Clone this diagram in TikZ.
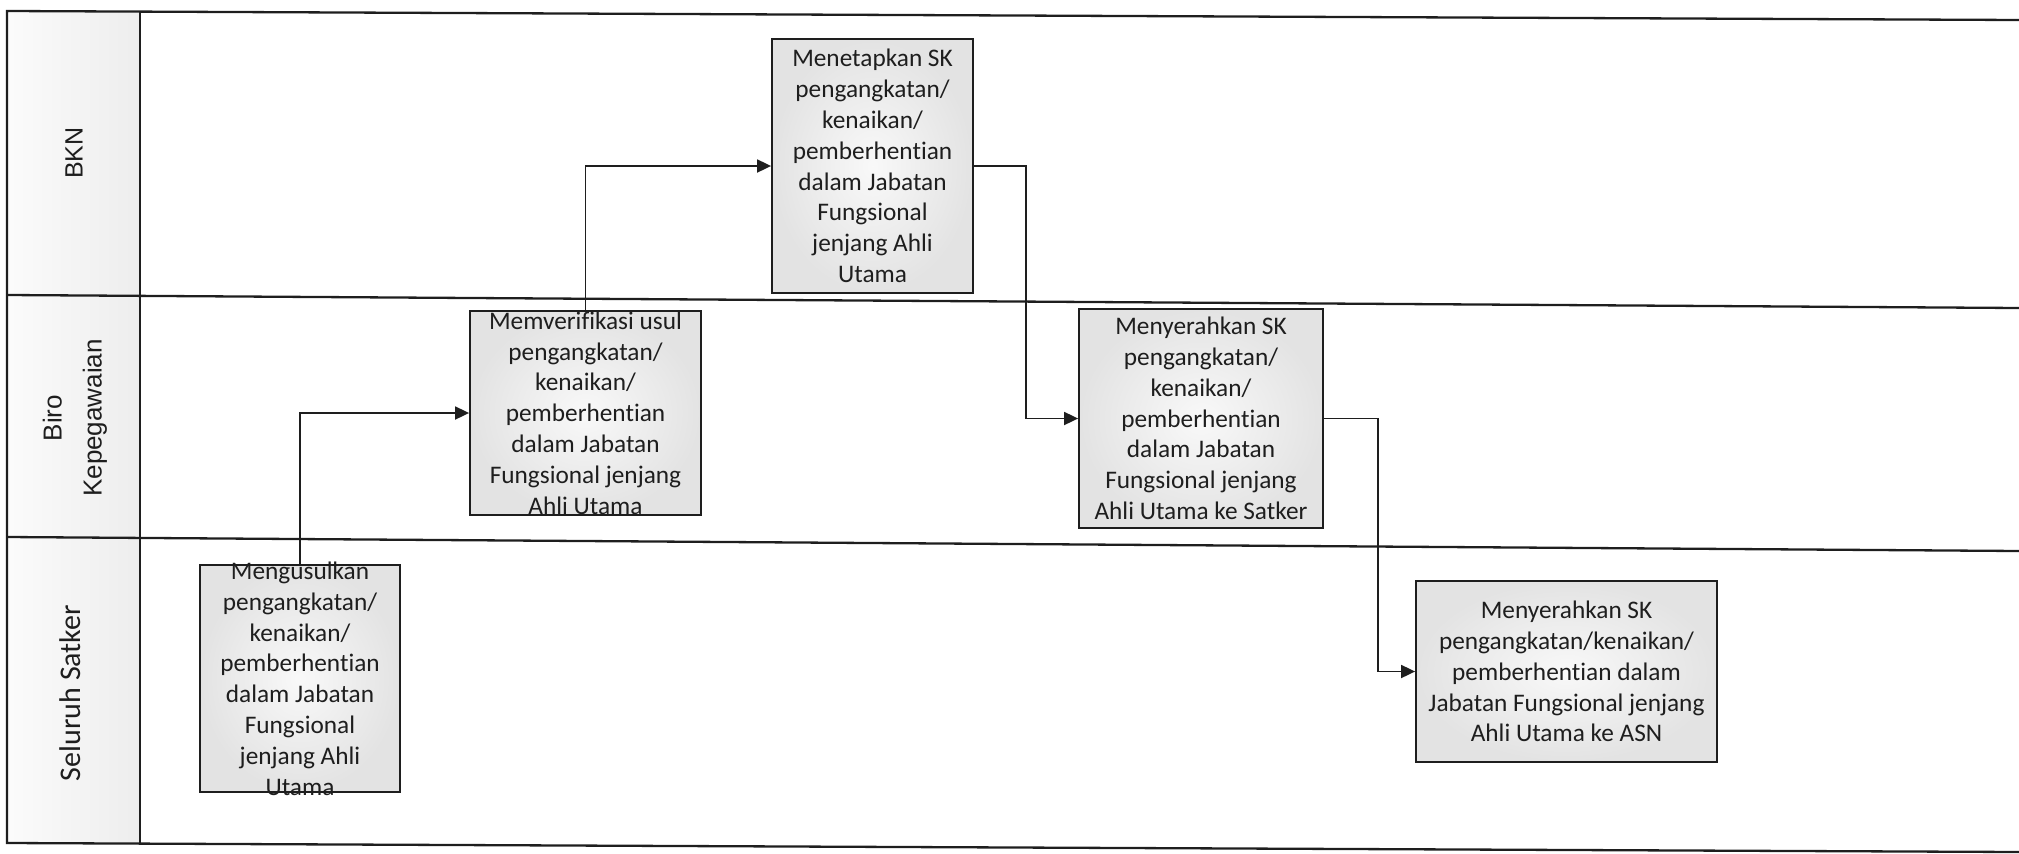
\documentclass[tikz,border=0pt]{standalone}
\usepackage{fontspec}
\setmainfont{Carlito}[Ligatures=NoCommon]
\newfontfamily\arialf{Liberation Sans}
\usetikzlibrary{arrows.meta}
\definecolor{ink}{HTML}{1E1E1E}
\begin{document}
\begin{tikzpicture}[x=1pt,y=-1pt,
  lane/.style={line width=2.3pt, draw=ink},
  stepbox/.style={draw=ink, line width=1.8pt, inner sep=0pt, shade, shading=radial, inner color=gray!5, outer color=gray!22},
  boxtext/.style={align=center, inner sep=0pt, text=ink, font=\fontsize{25.3}{30.8}\selectfont},
  flow/.style={line width=1.8pt, draw=ink, -{Triangle[length=14pt,width=13pt]}}]
\useasboundingbox (0,0) rectangle (2019,854);
% lanes
\shade[left color=gray!3, right color=gray!14] (7,11.5) -- (140,12) -- (140,843.5) -- (7,843) -- cycle;
\draw[lane] (2019,20) -- (7,11) -- (7,843) -- (2019,852);
\draw[lane] (140,11.5) -- (140,843.5);
\draw[lane] (7,295) -- (2019,308);
\draw[lane] (7,537) -- (2019,551);
\node[rotate=90, text=ink, font=\arialf\fontsize{25}{30}\selectfont] (bkn) at (74,153) {BKN};
\node[rotate=90, align=center, text=ink, font=\arialf\fontsize{26}{40}\selectfont] (biro) at (75,418) {Biro\\Kepegawaian};
\node[rotate=90, text=ink, font=\fontsize{30}{36}\selectfont] (satker) at (70,693) {Seluruh Satker};
% boxes
\node[stepbox, minimum width=200pt, minimum height=227pt] (A) at (300,678.5) {};
\node[boxtext] (At) at (A) {Mengusulkan\\pengangkatan/\\kenaikan/\\pemberhentian\\dalam Jabatan\\Fungsional\\jenjang Ahli\\Utama};
\node[stepbox, minimum width=231pt, minimum height=204pt] (B) at (585.5,413) {};
\node[boxtext] (Bt) at (B) {Memverifikasi usul\\pengangkatan/\\kenaikan/\\pemberhentian\\dalam Jabatan\\Fungsional jenjang\\Ahli Utama};
\node[stepbox, minimum width=201pt, minimum height=254pt] (C) at (872.5,166) {};
\node[boxtext] (Ct) at (C) {Menetapkan SK\\pengangkatan/\\kenaikan/\\pemberhentian\\dalam Jabatan\\Fungsional\\jenjang Ahli\\Utama};
\node[stepbox, minimum width=244pt, minimum height=219pt] (D) at (1201,418.5) {};
\node[boxtext] (Dt) at (D) {Menyerahkan SK\\pengangkatan/\\kenaikan/\\pemberhentian\\dalam Jabatan\\Fungsional jenjang\\Ahli Utama ke Satker};
\node[stepbox, minimum width=301pt, minimum height=181pt] (E) at (1566.5,671.5) {};
\node[boxtext] (Et) at (E) {Menyerahkan SK\\pengangkatan/kenaikan/\\pemberhentian dalam\\Jabatan Fungsional jenjang\\Ahli Utama ke ASN};
% connectors
\draw[flow] (A.north) |- (B.west);
\draw[flow] (B.north) |- (C.west);
\draw[flow] (C.east) -- ([xshift=52pt]C.east) |- (D.west);
\draw[flow] (D.east) -- ([xshift=54pt]D.east) |- (E.west);
\end{tikzpicture}
\end{document}
